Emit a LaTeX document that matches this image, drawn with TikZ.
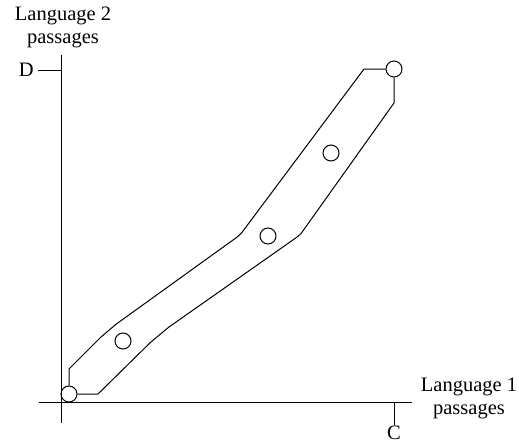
\documentclass[tikz,border=0pt]{standalone}
\usepackage{fontspec}
\setmainfont{Liberation Serif}
\usetikzlibrary{calc}
\begin{document}
\begin{tikzpicture}[x=1pt,y=-1pt,
  axisline/.style={line width=1pt,black},
  hull/.style={line width=1pt,black,line join=round},
  dot/.style={circle,draw,line width=1pt,minimum size=16pt,inner sep=0pt},
  lbl/.style={font=\fontsize{20.5}{23}\selectfont,align=center,inner sep=0pt}]
\useasboundingbox (0,0) rectangle (519,445);
% axes
\coordinate (ytop) at (61,55);
\coordinate (ybot) at (61,423);
\coordinate (xl) at (39,402);
\coordinate (xr) at (412,402);
\draw[axisline] (ytop) -- (ybot);
\draw[axisline] (xl) -- (xr);
\coordinate (dtick) at (38,70);
\coordinate (dtickend) at (61,70);
\draw[axisline] (dtick) -- (dtickend);
\coordinate (ctick) at (394,402);
\coordinate (ctickend) at (394,425);
\draw[axisline] (ctick) -- (ctickend);
\node[lbl,anchor=east] (dlab) at (34,70) {D};
\node[lbl,anchor=south] (clab) at (394,440) {C};
\node[lbl] (ylab) at (63,27) {Language 2\\passages};
\node[lbl] (xlab) at (469,398) {Language 1\\passages};
% points
\node[dot] (p1) at (69,394) {};
\node[dot] (p2) at (123,341) {};
\node[dot] (p3) at (268,236) {};
\node[dot] (p4) at (331,153) {};
\node[dot] (p5) at (394,69) {};
% hull
\coordinate (u1) at (364,69);
\coordinate (u2) at (240,235);
\coordinate (u3) at (108,330);
\coordinate (u4) at (69,369);
\coordinate (l1) at (98,394);
\coordinate (l2) at (159,334);
\coordinate (l3) at (300,235);
\coordinate (l4) at (394,103);
\draw[hull] (p5.west) -- (u1)
  -- ($(u2)!3pt!(u1)$) .. controls (u2) .. ($(u2)!3pt!(u3)$)
  -- ($(u3)!10pt!(u2)$) .. controls (u3) .. ($(u3)!10pt!(u4)$)
  -- (u4) -- (p1.north);
\draw[hull] (p1.east) -- (l1)
  -- ($(l2)!12pt!(l1)$) .. controls (l2) .. ($(l2)!12pt!(l3)$)
  -- ($(l3)!7pt!(l2)$) .. controls (l3) .. ($(l3)!7pt!(l4)$)
  -- (l4) -- (p5.south);
\end{tikzpicture}
\end{document}
